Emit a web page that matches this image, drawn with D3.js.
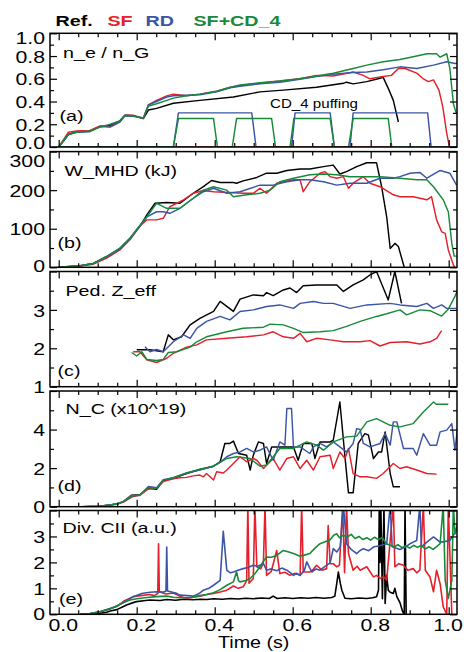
<!DOCTYPE html>
<html><head><meta charset="utf-8">
<script src="https://cdn.jsdelivr.net/npm/d3@7"></script>
<style>
body{margin:0;background:#fff}
svg{display:block}
text{font-family:"Liberation Sans",Arial,Helvetica,sans-serif;fill:#000}
</style>
</head><body>
<svg id="chart" width="464" height="652"></svg>
<script>
// ---------------- DATA ----------------
const seriesNames = ["Ref.", "SF", "RD", "SF+CD_4"];
const xTickLabels = [0.0, 0.2, 0.4, 0.6, 0.8, 1.0];
const xAxisTitle = "Time (s)";
const panelTitles = ["n_e / n_G", "W_MHD (kJ)", "Ped. Z_eff", "N_C (x10^19)", "Div. CII (a.u.)"];
const panelLetters = ["(a)", "(b)", "(c)", "(d)", "(e)"];
const puffLabel = "CD_4 puffing";

// (a) n_e / n_G
const neRef = [[0,0],[0.025,0.11],[0.046,0.135],[0.08,0.14],[0.106,0.18],[0.132,0.19],[0.157,0.23],[0.17,0.28],[0.191,0.275],[0.217,0.25],[0.23,0.325],[0.251,0.34],[0.294,0.385],[0.362,0.41],[0.448,0.44],[0.516,0.485],[0.576,0.50],[0.661,0.525],[0.73,0.56],[0.738,0.57],[0.755,0.555],[0.79,0.575],[0.824,0.605],[0.832,0.612],[0.845,0.516],[0.858,0.41],[0.871,0.22]];
const neSF = [[0,0],[0.025,0.13],[0.046,0.14],[0.08,0.145],[0.106,0.185],[0.132,0.18],[0.157,0.225],[0.17,0.28],[0.191,0.28],[0.217,0.25],[0.23,0.37],[0.251,0.41],[0.277,0.45],[0.294,0.465],[0.328,0.45],[0.362,0.465],[0.405,0.49],[0.44,0.525],[0.465,0.54],[0.516,0.56],[0.567,0.58],[0.618,0.60],[0.661,0.63],[0.704,0.625],[0.755,0.66],[0.781,0.63],[0.798,0.60],[0.832,0.62],[0.853,0.63],[0.871,0.69],[0.888,0.69],[0.918,0.65],[0.935,0.60],[0.948,0.575],[0.961,0.59],[0.975,0.50],[0.985,0.35],[0.995,0.12],[1.002,0],[1.03,0]];
const neRD = [[0,0],[0.025,0.11],[0.046,0.13],[0.08,0.135],[0.106,0.18],[0.132,0.175],[0.157,0.22],[0.17,0.275],[0.191,0.27],[0.217,0.255],[0.23,0.37],[0.251,0.40],[0.277,0.44],[0.294,0.45],[0.328,0.455],[0.362,0.46],[0.405,0.485],[0.44,0.52],[0.465,0.535],[0.516,0.555],[0.567,0.57],[0.618,0.595],[0.661,0.62],[0.704,0.64],[0.755,0.655],[0.79,0.66],[0.832,0.68],[0.875,0.705],[0.918,0.69],[0.961,0.72],[0.995,0.75],[1.016,0.735],[1.03,0.74]];
const neCD = [[0,0],[0.025,0.11],[0.046,0.13],[0.08,0.14],[0.106,0.175],[0.132,0.2],[0.157,0.23],[0.17,0.28],[0.191,0.275],[0.217,0.255],[0.23,0.36],[0.251,0.38],[0.277,0.41],[0.294,0.43],[0.328,0.45],[0.362,0.465],[0.405,0.49],[0.44,0.525],[0.465,0.545],[0.516,0.565],[0.567,0.58],[0.618,0.60],[0.661,0.625],[0.704,0.648],[0.755,0.69],[0.79,0.72],[0.832,0.75],[0.875,0.77],[0.918,0.80],[0.944,0.82],[0.969,0.82],[0.978,0.79],[0.995,0.82],[1.003,0.69],[1.012,0.38],[1.019,0.30],[1.03,0.28]];
const puffRD = [[0,0],[0.294,0],[0.307,0.3],[0.495,0.3],[0.506,0],[0.597,0],[0.606,0.3],[0.696,0.3],[0.707,0],[0.747,0],[0.755,0.3],[0.946,0.3],[0.955,0],[1.03,0]];
const puffCD = [[0,0],[0.294,0],[0.307,0.25],[0.397,0.25],[0.407,0],[0.445,0],[0.456,0.25],[0.546,0.25],[0.556,0],[0.593,0],[0.603,0.25],[0.696,0.25],[0.707,0],[0.743,0],[0.755,0.25],[0.845,0.25],[0.854,0],[1.03,0]];
const puffSF = [[0.294,0],[0.854,0]];

// (b) W_MHD (kJ)
const wRef = [[0,0],[0.055,4],[0.089,10],[0.123,28],[0.157,49],[0.183,75],[0.2,97],[0.213,114],[0.226,136],[0.247,166],[0.277,168],[0.311,166],[0.345,192],[0.371,209],[0.392,225],[0.414,220],[0.448,220],[0.456,218],[0.473,224],[0.508,233],[0.533,244],[0.559,244],[0.585,251],[0.619,255],[0.644,255],[0.679,261],[0.704,265],[0.721,242],[0.738,248],[0.764,261],[0.79,271],[0.815,271],[0.828,209],[0.841,131],[0.85,49],[0.862,62],[0.871,54],[0.886,0]];
const wSF = [[0,0],[0.055,3],[0.089,8],[0.123,24],[0.157,45],[0.183,72],[0.2,95],[0.213,112],[0.226,123],[0.251,123],[0.268,127],[0.285,157],[0.32,175],[0.345,192],[0.371,199],[0.397,196],[0.439,194],[0.473,192],[0.499,192],[0.516,205],[0.533,192],[0.559,218],[0.576,222],[0.602,227],[0.619,227],[0.627,196],[0.644,222],[0.67,244],[0.683,248],[0.696,235],[0.713,231],[0.73,235],[0.743,205],[0.755,218],[0.781,235],[0.798,218],[0.824,209],[0.858,188],[0.875,183],[0.909,183],[0.926,179],[0.944,175],[0.956,183],[0.969,123],[0.982,92],[0.991,88],[0.999,45],[1.012,6],[1.016,0]];
const wRD = [[0,0],[0.055,4],[0.089,10],[0.123,27],[0.157,47],[0.183,74],[0.2,96],[0.213,113],[0.226,131],[0.251,144],[0.268,144],[0.285,140],[0.311,153],[0.345,179],[0.371,196],[0.397,205],[0.431,192],[0.465,196],[0.516,213],[0.55,213],[0.585,222],[0.619,227],[0.644,227],[0.679,222],[0.713,213],[0.747,218],[0.79,218],[0.824,231],[0.858,231],[0.875,235],[0.901,244],[0.926,246],[0.944,231],[0.978,251],[1.003,244],[1.02,213]];
const wCD = [[0,0],[0.055,4],[0.089,10],[0.123,28],[0.157,50],[0.183,76],[0.2,98],[0.213,115],[0.226,131],[0.251,166],[0.277,153],[0.311,153],[0.345,179],[0.371,200],[0.397,209],[0.431,200],[0.448,183],[0.482,188],[0.516,192],[0.542,200],[0.567,222],[0.602,231],[0.644,240],[0.679,242],[0.713,240],[0.747,235],[0.79,235],[0.824,235],[0.875,231],[0.918,227],[0.944,227],[0.961,209],[0.986,175],[0.999,144],[1.008,62],[1.014,29],[1.025,29]];

// (c) Ped. Z_eff
const zRef = [[0.2,1.96],[0.234,1.96],[0.268,1.91],[0.281,2.35],[0.294,2.22],[0.315,2.30],[0.337,2.61],[0.362,2.78],[0.397,2.96],[0.414,3.22],[0.448,2.96],[0.465,3.28],[0.499,3.39],[0.525,3.37],[0.533,3.45],[0.55,3.37],[0.576,3.52],[0.593,3.57],[0.61,3.45],[0.627,3.63],[0.661,3.65],[0.696,3.65],[0.713,3.65],[0.73,3.48],[0.755,3.65],[0.781,3.78],[0.798,3.91],[0.815,4.0],[0.845,3.26],[0.862,4.0],[0.879,3.17]];
const zSF = [[0.191,1.91],[0.208,1.91],[0.226,1.70],[0.251,1.63],[0.277,1.74],[0.294,1.87],[0.328,2.03],[0.354,2.09],[0.379,2.22],[0.431,2.26],[0.482,2.30],[0.525,2.35],[0.55,2.43],[0.576,2.30],[0.602,2.26],[0.619,2.39],[0.636,2.17],[0.661,2.26],[0.696,2.22],[0.73,2.17],[0.773,2.17],[0.798,2.2],[0.824,2.06],[0.85,2.15],[0.892,2.17],[0.926,2.11],[0.952,2.17],[0.969,2.26],[0.982,2.46]];
const zRD = [[0.221,2.04],[0.234,1.91],[0.251,1.97],[0.268,1.91],[0.294,2.17],[0.32,2.35],[0.337,2.26],[0.354,2.52],[0.379,2.70],[0.414,2.83],[0.439,2.74],[0.465,2.96],[0.499,3.0],[0.533,3.09],[0.567,3.13],[0.602,3.04],[0.619,3.17],[0.653,3.22],[0.679,3.17],[0.704,3.17],[0.747,3.04],[0.79,3.13],[0.85,3.17],[0.875,3.13],[0.918,3.09],[0.944,3.17],[0.961,3.04],[0.982,3.13],[0.995,3.04],[1.02,3.04]];
const zCD = [[0.187,1.89],[0.2,1.80],[0.213,1.91],[0.226,1.71],[0.251,1.68],[0.268,1.71],[0.281,1.89],[0.302,1.91],[0.337,2.03],[0.354,2.17],[0.379,2.30],[0.431,2.43],[0.473,2.52],[0.525,2.55],[0.542,2.63],[0.576,2.61],[0.602,2.52],[0.627,2.41],[0.67,2.43],[0.704,2.46],[0.738,2.57],[0.773,2.70],[0.815,2.83],[0.841,2.90],[0.875,3.0],[0.892,2.87],[0.926,3.0],[0.952,2.98],[0.982,2.84],[0.999,3.02],[1.016,3.35],[1.025,3.57]];

// (d) N_C (x10^19)
const cRef = [[0.059,0],[0.106,0.03],[0.149,0.14],[0.166,0.26],[0.187,0.6],[0.208,0.62],[0.23,0.95],[0.251,0.9],[0.268,1.35],[0.294,1.47],[0.328,1.72],[0.362,1.93],[0.397,2.1],[0.414,2.33],[0.426,3.28],[0.439,3.28],[0.448,3.4],[0.461,2.76],[0.482,2.67],[0.491,1.9],[0.499,2.67],[0.512,3.36],[0.525,3.28],[0.533,2.24],[0.546,3.1],[0.576,3.1],[0.602,3.1],[0.614,2.41],[0.627,3.28],[0.649,3.28],[0.657,2.5],[0.67,3.36],[0.696,3.36],[0.704,3.45],[0.721,5.43],[0.734,2.59],[0.743,0.72],[0.755,0.72],[0.768,3.28],[0.785,3.79],[0.794,3.72],[0.807,2.5],[0.82,2.84],[0.828,2.84],[0.837,3.88],[0.85,1.72],[0.858,1.03],[0.875,1.03]];
const cSF = [[0.059,0],[0.106,0.03],[0.149,0.12],[0.166,0.24],[0.187,0.5],[0.208,0.6],[0.23,0.92],[0.251,0.95],[0.268,1.3],[0.294,1.45],[0.311,1.5],[0.328,1.52],[0.345,1.6],[0.362,1.64],[0.371,1.55],[0.379,1.72],[0.397,1.38],[0.405,1.81],[0.422,1.75],[0.431,1.9],[0.448,2.24],[0.465,2.59],[0.482,2.33],[0.499,2.5],[0.508,2.41],[0.525,1.98],[0.55,2.5],[0.567,1.9],[0.585,2.5],[0.602,2.59],[0.619,1.98],[0.636,2.41],[0.653,1.9],[0.67,2.59],[0.696,2.67],[0.704,1.98],[0.721,2.84],[0.734,2.5],[0.743,3.02],[0.755,1.72],[0.773,1.55],[0.79,1.55],[0.815,1.47],[0.832,1.72],[0.858,2.24],[0.875,1.98],[0.892,2.07],[0.918,1.9],[0.944,1.72],[0.969,1.69]];
const cRD = [[0.059,0],[0.106,0.03],[0.149,0.14],[0.166,0.28],[0.187,0.55],[0.208,0.6],[0.23,1.05],[0.251,0.98],[0.268,1.4],[0.294,1.5],[0.328,1.75],[0.362,1.9],[0.397,2.1],[0.414,2.3],[0.431,2.59],[0.448,2.76],[0.465,2.84],[0.482,3.02],[0.499,2.84],[0.516,2.93],[0.533,3.1],[0.55,2.41],[0.567,3.36],[0.58,3.19],[0.585,5.09],[0.597,5.09],[0.602,3.1],[0.619,3.1],[0.644,2.76],[0.653,3.1],[0.67,3.28],[0.687,3.1],[0.704,3.36],[0.738,2.84],[0.755,3.28],[0.764,4.05],[0.773,4.0],[0.781,3.28],[0.798,3.1],[0.824,3.28],[0.837,3.79],[0.85,3.19],[0.858,4.4],[0.867,4.4],[0.884,3.02],[0.909,3.02],[0.918,2.67],[0.935,3.79],[0.952,3.19],[0.969,3.19],[0.978,3.88],[0.995,3.97],[1.008,4.31],[1.016,2.93],[1.025,4.48]];
const cCD = [[0.059,0],[0.106,0.03],[0.149,0.14],[0.166,0.26],[0.187,0.58],[0.208,0.58],[0.23,1.0],[0.251,0.95],[0.268,1.38],[0.294,1.5],[0.328,1.75],[0.362,1.95],[0.397,2.1],[0.431,2.5],[0.456,2.59],[0.491,2.5],[0.516,2.1],[0.533,2.16],[0.567,3.02],[0.602,3.02],[0.636,3.36],[0.661,3.19],[0.679,2.93],[0.704,3.36],[0.738,3.62],[0.764,3.66],[0.79,4.4],[0.815,4.57],[0.85,4.22],[0.875,4.14],[0.909,4.31],[0.935,4.91],[0.961,5.43],[0.969,5.31],[0.999,5.31]];

// (e) Div. CII (a.u.)
const dRef = [[0.055,0],[0.08,0.01],[0.106,0.04],[0.123,0.08],[0.132,0.13],[0.149,0.18],[0.166,0.3],[0.174,0.36],[0.191,0.45],[0.2,0.49],[0.217,0.52],[0.234,0.55],[0.26,0.53],[0.277,0.57],[0.3,0.54],[0.32,0.58],[0.345,0.56],[0.362,0.58],[0.38,0.57],[0.397,0.6],[0.42,0.58],[0.44,0.61],[0.46,0.59],[0.48,0.62],[0.499,0.6],[0.52,0.63],[0.54,0.61],[0.55,0.7],[0.56,0.61],[0.58,0.64],[0.6,0.61],[0.62,0.64],[0.64,0.62],[0.66,0.65],[0.68,0.62],[0.70,0.65],[0.708,0.7],[0.713,1.19],[0.717,1.63],[0.722,1.2],[0.726,0.93],[0.734,0.62],[0.75,0.6],[0.77,0.63],[0.79,0.61],[0.805,0.64],[0.815,0.68],[0.82,0.93],[0.822,4.2],[0.824,2.0],[0.826,4.2],[0.83,0.6],[0.834,4.2],[0.837,0.42],[0.841,1.5],[0.845,0.93],[0.85,0.85],[0.858,0.8],[0.862,1.0],[0.867,0.68],[0.875,0.45],[0.882,0.1],[0.886,0],[0.888,4.2],[0.891,0]];
const dSF = [[0.055,0],[0.08,0.03],[0.106,0.1],[0.132,0.22],[0.149,0.3],[0.166,0.5],[0.191,0.68],[0.21,0.72],[0.234,0.76],[0.245,0.72],[0.254,0.8],[0.256,2.72],[0.258,0.87],[0.275,0.78],[0.294,0.82],[0.31,0.7],[0.328,0.61],[0.345,0.66],[0.362,0.7],[0.38,0.76],[0.397,0.8],[0.414,0.86],[0.431,0.93],[0.448,1.09],[0.46,1.0],[0.473,1.06],[0.482,1.3],[0.485,4.2],[0.488,1.2],[0.499,1.38],[0.503,4.2],[0.508,1.83],[0.518,1.75],[0.525,2.02],[0.529,4.2],[0.533,1.5],[0.545,1.65],[0.559,2.46],[0.567,1.57],[0.58,1.62],[0.593,1.5],[0.606,1.58],[0.619,1.5],[0.623,4.2],[0.627,1.63],[0.644,1.63],[0.652,1.72],[0.661,1.89],[0.675,1.7],[0.687,1.76],[0.691,3.42],[0.696,1.95],[0.704,1.95],[0.713,1.83],[0.72,1.9],[0.728,4.2],[0.733,1.6],[0.738,4.2],[0.743,2.34],[0.755,1.7],[0.765,1.85],[0.773,1.7],[0.79,1.83],[0.8,1.6],[0.807,1.44],[0.815,1.5],[0.824,1.38],[0.833,1.45],[0.841,1.32],[0.858,4.2],[0.862,1.83],[0.872,1.95],[0.884,1.89],[0.895,1.7],[0.909,1.76],[0.918,1.6],[0.926,1.7],[0.935,4.2],[0.94,1.7],[0.952,1.44],[0.961,0.87],[0.969,1.7],[0.978,1.18],[0.986,0.29],[0.995,0],[0.999,4.2],[1.008,0]];
const dRD = [[0.055,0],[0.08,0.03],[0.106,0.1],[0.132,0.22],[0.149,0.32],[0.166,0.45],[0.191,0.68],[0.213,0.8],[0.234,0.85],[0.251,0.87],[0.27,0.86],[0.275,0.9],[0.277,2.59],[0.279,0.9],[0.3,0.82],[0.311,0.74],[0.33,0.72],[0.345,0.7],[0.36,0.8],[0.371,0.93],[0.385,1.0],[0.397,1.12],[0.414,1.31],[0.422,3.2],[0.431,1.7],[0.44,1.6],[0.448,1.63],[0.46,1.7],[0.473,1.76],[0.485,1.8],[0.499,1.89],[0.51,1.85],[0.525,1.95],[0.533,1.7],[0.545,1.75],[0.559,1.68],[0.572,1.78],[0.585,1.7],[0.594,1.6],[0.602,1.5],[0.61,1.58],[0.619,1.5],[0.63,1.7],[0.636,2.02],[0.649,1.63],[0.66,1.75],[0.67,1.7],[0.683,1.85],[0.696,1.98],[0.704,2.53],[0.713,2.4],[0.722,2.6],[0.73,4.2],[0.738,2.72],[0.75,2.5],[0.764,2.34],[0.772,2.45],[0.781,2.53],[0.795,2.45],[0.807,2.59],[0.825,2.65],[0.841,2.72],[0.85,4.2],[0.855,2.6],[0.875,2.5],[0.89,2.6],[0.901,2.72],[0.918,2.85],[0.926,4.2],[0.93,2.6],[0.944,2.78],[0.961,2.98],[0.978,2.78],[0.99,2.8],[1.003,2.85],[1.02,3.23]];
const dCD = [[0.055,0],[0.08,0.02],[0.106,0.1],[0.132,0.2],[0.149,0.32],[0.166,0.45],[0.183,0.55],[0.2,0.6],[0.226,0.65],[0.251,0.68],[0.277,0.7],[0.294,0.66],[0.311,0.64],[0.337,0.65],[0.354,0.7],[0.379,0.76],[0.397,0.83],[0.414,0.95],[0.431,1.12],[0.448,1.25],[0.456,1.63],[0.461,1.3],[0.465,1.25],[0.48,1.3],[0.491,1.38],[0.505,1.6],[0.516,1.83],[0.525,2.05],[0.533,2.21],[0.545,2.2],[0.559,2.27],[0.576,2.46],[0.59,2.4],[0.602,2.34],[0.619,2.24],[0.63,2.28],[0.644,2.34],[0.657,2.55],[0.67,2.72],[0.683,2.8],[0.696,2.87],[0.705,3.05],[0.713,3.1],[0.72,2.95],[0.73,3.05],[0.74,2.98],[0.75,3.08],[0.76,2.92],[0.77,3.0],[0.78,2.88],[0.79,2.95],[0.80,2.86],[0.81,2.97],[0.82,2.88],[0.83,2.96],[0.84,2.72],[0.85,2.66],[0.86,2.6],[0.87,2.68],[0.88,2.57],[0.89,2.64],[0.90,2.55],[0.91,2.66],[0.92,2.58],[0.93,2.65],[0.94,2.52],[0.95,2.6],[0.96,2.5],[0.97,2.62],[0.978,2.72],[0.986,4.2],[0.991,1.31],[0.999,0.61],[1.008,1.31],[1.012,4.2],[1.016,3.1],[1.025,3.6]];

// ---------------- STYLE / LAYOUT ----------------
const colors = { Ref: "#000000", SF: "#e4202a", RD: "#3b55a6", CD: "#178a3a", SFzero: "#a3262a" };
const FONT_SX = 1.27;
const svg = d3.select("#chart");
const X0 = 50, X1 = 457;
const x = d3.scaleLinear().domain([0, 1]).range([58.7, 448.7]);

const panels = [
  { top: 33.3, bot: 147, dom: [0, 1], labels: [0, 0.2, 0.4, 0.6, 0.8, 1.0], major: [0, 0.2, 0.4, 0.6, 0.8, 1.0], minor: [0.1, 0.3, 0.5, 0.7, 0.9], fmt: d3.format(".1f"), titleY: 57.8, letterY: 121.3, topShift: 5, botShift: -4, titleX: 63, letterX: 59.5,
    series: [[neRef, "Ref"], [neSF, "SF"], [neRD, "RD"], [neCD, "CD"], [puffRD, "RD"], [puffCD, "CD"], [puffSF, "SFzero"]] },
  { top: 151.6, bot: 267.3, dom: [0, 300], labels: [0, 100, 200, 300], major: [0, 100, 200, 300], minor: [50, 150, 250], fmt: d3.format("d"), titleY: 176.1, letterY: 248, topShift: 9, botShift: -1.5, titleX: 64.5, letterX: 57.5,
    series: [[wRef, "Ref"], [wSF, "SF"], [wRD, "RD"], [wCD, "CD"]] },
  { top: 271.5, bot: 386.7, dom: [1, 4], labels: [1, 2, 3], major: [1, 2, 3, 4], minor: [1.5, 2.5, 3.5], fmt: d3.format("d"), titleY: 296, letterY: 376.3, topShift: 0, botShift: 0, titleX: 65.5, letterX: 57.5,
    series: [[zRef, "Ref"], [zSF, "SF"], [zRD, "RD"], [zCD, "CD"]] },
  { top: 391, bot: 506.7, dom: [0, 6], labels: [0, 2, 4], major: [0, 2, 4, 6], minor: [1, 3, 5], fmt: d3.format("d"), titleY: 414.4, letterY: 491.3, topShift: 0, botShift: 0, titleX: 65.5, letterX: 57.5,
    series: [[cRef, "Ref"], [cSF, "SF"], [cRD, "RD"], [cCD, "CD"]] },
  { top: 510.5, bot: 614.3, dom: [0, 4], labels: [0, 1, 2, 3], major: [0, 1, 2, 3, 4], minor: [0.5, 1.5, 2.5, 3.5], fmt: d3.format("d"), titleY: 532.8, letterY: 604.3, topShift: 0, botShift: 0, titleX: 62.5, letterX: 59,
    series: [[dRef, "Ref"], [dSF, "SF"], [dRD, "RD"], [dCD, "CD"]] }
];

function stext(parent, s, tx, ty, size, anchor, opts = {}) {
  const t = parent.append("text")
    .attr("transform", `translate(${tx},${ty}) scale(${opts.sx || FONT_SX},1)`)
    .attr("text-anchor", anchor)
    .attr("font-size", size)
    .text(s);
  if (opts.weight) t.attr("font-weight", opts.weight);
  if (opts.fill) t.style("fill", opts.fill);
  return t;
}

function styleAxis(g) {
  g.selectAll(".domain").remove();
  g.selectAll(".tick line").attr("stroke", "#000").attr("stroke-width", 1.2);
}

panels.forEach((p, i) => {
  const y = d3.scaleLinear().domain(p.dom).range([p.bot, p.top]);
  const g = svg.append("g");
  const clipId = "clip" + i;
  svg.append("clipPath").attr("id", clipId).append("rect")
    .attr("x", X0).attr("y", p.top).attr("width", X1 - X0).attr("height", p.bot - p.top);

  const line = d3.line().x(d => x(d[0])).y(d => y(d[1]));
  const lg = g.append("g").attr("clip-path", `url(#${clipId})`);
  p.series.forEach(([data, key]) => {
    lg.append("path").datum(data)
      .attr("d", line)
      .attr("fill", "none")
      .attr("stroke", colors[key])
      .attr("stroke-width", i === 4 ? 1.6 : 1.45)
      .attr("stroke-linejoin", "round");
  });

  // frame
  g.append("rect").attr("x", X0).attr("y", p.top).attr("width", X1 - X0).attr("height", p.bot - p.top)
    .attr("fill", "none").attr("stroke", "#000").attr("stroke-width", 1.5);

  // y ticks (inward)
  g.append("g").attr("transform", `translate(${X0},0)`).call(d3.axisRight(y).tickValues(p.major).tickSize(7).tickFormat("")).call(styleAxis);
  g.append("g").attr("transform", `translate(${X0},0)`).call(d3.axisRight(y).tickValues(p.minor).tickSize(4).tickFormat("")).call(styleAxis);
  g.append("g").attr("transform", `translate(${X1},0)`).call(d3.axisLeft(y).tickValues(p.major).tickSize(7).tickFormat("")).call(styleAxis);
  g.append("g").attr("transform", `translate(${X1},0)`).call(d3.axisLeft(y).tickValues(p.minor).tickSize(4).tickFormat("")).call(styleAxis);

  // x ticks (inward)
  const xMajor = [0, 0.2, 0.4, 0.6, 0.8, 1.0];
  const xMinor = d3.range(0, 21).map(k => k * 0.05).filter(v => Math.abs(v * 5 - Math.round(v * 5)) > 1e-6);
  g.append("g").attr("transform", `translate(0,${p.top})`).call(d3.axisBottom(x).tickValues(xMajor).tickSize(7).tickFormat("")).call(styleAxis);
  g.append("g").attr("transform", `translate(0,${p.top})`).call(d3.axisBottom(x).tickValues(xMinor).tickSize(4).tickFormat("")).call(styleAxis);
  g.append("g").attr("transform", `translate(0,${p.bot})`).call(d3.axisTop(x).tickValues(xMajor).tickSize(7).tickFormat("")).call(styleAxis);
  g.append("g").attr("transform", `translate(0,${p.bot})`).call(d3.axisTop(x).tickValues(xMinor).tickSize(4).tickFormat("")).call(styleAxis);

  // y tick labels
  p.labels.forEach(v => {
    let cy = y(v) + 0.5;
    if (v === p.dom[1]) cy = y(v) + p.topShift;
    if (v === p.dom[0]) cy = y(v) + p.botShift;
    stext(g, p.fmt(v), 45, cy + 6.1, 17, "end", { sx: 1.25 });
  });

  // panel title and letter
  stext(g, panelTitles[i], p.titleX, p.titleY, 15.5, "start");
  stext(g, panelLetters[i], p.letterX, p.letterY, 15.5, "start");

  if (i === 0) stext(g, puffLabel, 270, 108, 13.5, "start", { sx: 1.12 });

  if (i === 4) {
    xTickLabels.forEach(v => stext(g, d3.format(".1f")(v), Math.min(x(v) + 4.5, 448), 631, 17, "middle", { sx: 1.25 }));
    stext(g, xAxisTitle, x(0.5), 647.5, 16, "middle", { sx: 1.23 });
  }
});

// legend
const legendX = [55.5, 107.5, 145.5, 193.5];
const legendCol = [colors.Ref, colors.SF, colors.RD, colors.CD];
seriesNames.forEach((s, k) => stext(svg, s, legendX[k], 26.1, 15.5, "start", { weight: "bold", fill: legendCol[k] }));
</script>
</body></html>
